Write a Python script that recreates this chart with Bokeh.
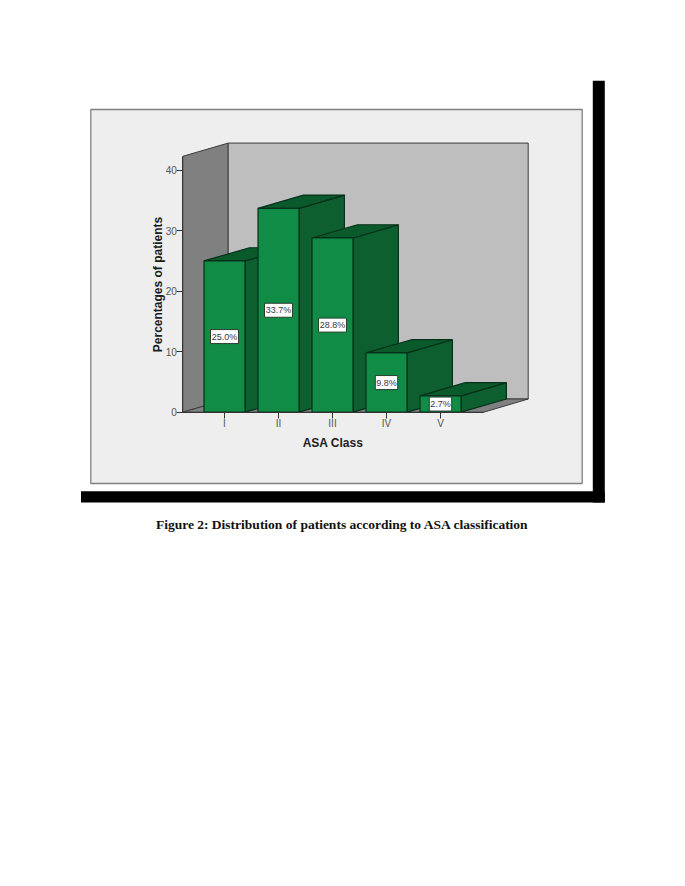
from bokeh.plotting import figure
from bokeh.models import ColumnDataSource, LinearAxis, FixedTicker, Range1d
from bokeh.core.properties import value
from bokeh.embed import file_html
from bokeh.resources import INLINE

categories = ["I", "II", "III", "IV", "V"]
percentages = [25.0, 33.7, 28.8, 9.8, 2.7]
labels = ["25.0%", "33.7%", "28.8%", "9.8%", "2.7%"]
y_ticks = [0, 10, 20, 30, 40]
caption = "Figure 2: Distribution of patients according to ASA classification"

W, H = 669, 870
PX_CAT, PX_VAL = 54.0, 6.05
X1, Y0 = 224.0, 411.7           # position of category 1 and of value 0
OFFSET = 0                      # canvas origin in the picture


def dx(px):
    return 1 + (px - X1) / PX_CAT


def dy(py):
    return (Y0 - py) / PX_VAL


DEPTH_X, DEPTH_Y = 45.4 / PX_CAT, 13.2 / PX_VAL
BAR_W = 41 / PX_CAT
xs = list(range(1, len(categories) + 1))

p = figure(width=W, height=H, output_backend="svg", toolbar_location=None,
           x_range=Range1d(dx(OFFSET), dx(OFFSET + W)), y_range=Range1d(dy(OFFSET + H), dy(OFFSET)),
           min_border=0, outline_line_color=None, background_fill_color="white",
           border_fill_color="white", x_axis_type=None, y_axis_type=None)
p.grid.visible = False


def box(l, t, r, b, **kw):
    p.quad(left=dx(l), right=dx(r), top=dy(t), bottom=dy(b), **kw)


# black drop shadow and panel
box(592.3, 80.3, 604.3, 502, fill_color="black", line_color=None)
box(80.5, 490.7, 604.3, 502, fill_color="black", line_color=None)
box(90.3, 109, 581.7, 483, fill_color="#eeeeee", line_color="#7f7f7f", line_width=1.3)

# walls and floor
left_x, right_x, back_x, back_r = dx(182.3), dx(483.3), dx(227.7), dx(527.7)
floor_top = dy(398.5)
wall_top = 42.3
back_top = wall_top + DEPTH_Y
p.patch([left_x, back_x, back_x, left_x], [0, floor_top, back_top, wall_top],
        fill_color="#808080", line_color="#3c3c3c", line_width=1)
p.patch([back_x, back_r, back_r, back_x], [floor_top, floor_top, back_top, back_top],
        fill_color="#bebebe", line_color="#3c3c3c", line_width=1)
p.patch([left_x, right_x, back_r, back_x], [0, 0, floor_top, floor_top],
        fill_color="#808080", line_color="#3c3c3c", line_width=1)

# bars
side_xs, side_ys, top_xs, top_ys = [], [], [], []
for x, v in zip(xs, percentages):
    r = x + BAR_W / 2
    l = x - BAR_W / 2
    side_xs.append([r, r + DEPTH_X, r + DEPTH_X, r])
    side_ys.append([0, DEPTH_Y, v + DEPTH_Y, v])
    top_xs.append([l, r, r + DEPTH_X, l + DEPTH_X])
    top_ys.append([v, v, v + DEPTH_Y, v + DEPTH_Y])
EDGE = "#07301a"
p.patches(side_xs, side_ys, fill_color="#0d5f2f", line_color=EDGE, line_width=1.2)
p.patches(top_xs, top_ys, fill_color="#0b5a2c", line_color=EDGE, line_width=1.2)
p.vbar(x=xs, top=percentages, bottom=0, width=BAR_W, fill_color="#118c46",
       line_color=EDGE, line_width=1.2)

# value labels
lab = ColumnDataSource(dict(x=xs, y=[v / 2 for v in percentages], t=labels,
                            w=[5.6 * len(t) for t in labels]))
p.rect(x="x", y="y", width="w", height=14, width_units="screen", height_units="screen",
       source=lab, fill_color="white", line_color="#27402f", line_width=1)
p.text(x="x", y="y", text="t", source=lab, text_align="center", text_baseline="middle",
       text_font=value("Liberation Sans"), text_font_size="9px", text_color="#3a3a3a")

# axes
yaxis = LinearAxis(ticker=FixedTicker(ticks=y_ticks), fixed_location=left_x,
                   bounds=(0, wall_top), axis_label="Percentages of patients")
xaxis = LinearAxis(ticker=FixedTicker(ticks=xs), fixed_location=0,
                   bounds=(left_x, right_x), axis_label="ASA Class",
                   major_label_overrides=dict(zip(xs, categories)))
for ax in (xaxis, yaxis):
    ax.axis_line_color = "#333333"
    ax.axis_line_width = 1
    ax.major_tick_line_color = "#333333"
    ax.major_tick_in = 0
    ax.major_tick_out = 6
    ax.minor_tick_line_color = None
    ax.major_label_text_font = "Liberation Sans"
    ax.major_label_text_font_size = "10px"
    ax.major_label_text_color = "#555555"
    ax.major_label_standoff = 0
    ax.axis_label_text_font = "Liberation Sans"
    ax.axis_label_text_font_style = "bold"
    ax.axis_label_text_font_size = "12px"
    ax.axis_label_text_color = "#1c1c1c"
yaxis.axis_label_standoff = -3
xaxis.axis_label_standoff = 3
p.add_layout(yaxis, "left")
p.add_layout(xaxis, "below")

# caption
p.text(x=[dx(342)], y=[dy(524)], text=[caption], text_align="center", text_baseline="middle",
       text_font=value("Liberation Serif"), text_font_style="bold",
       text_font_size="13.5px", text_color="#111111")

open("out.html", "w").write(file_html(p, INLINE))
